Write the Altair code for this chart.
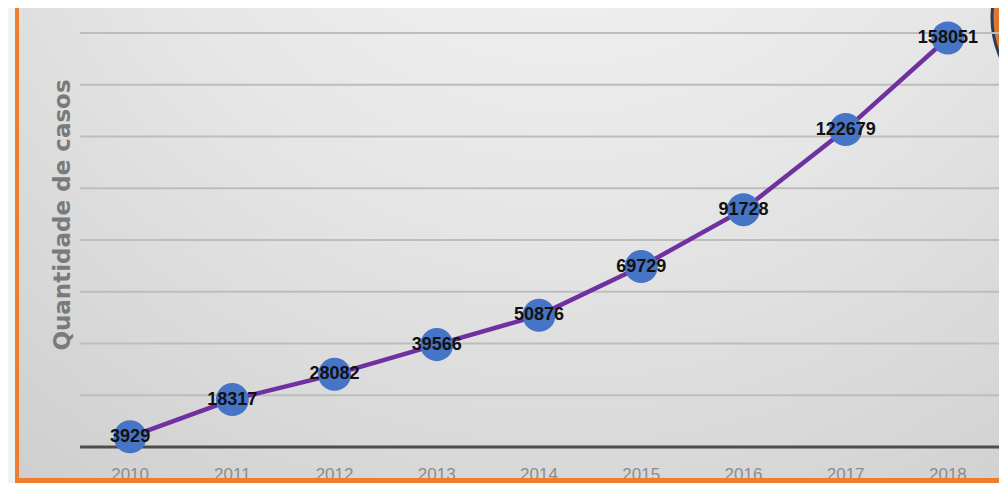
import altair as alt
import pandas as pd

years = ["2010", "2011", "2012", "2013", "2014", "2015", "2016", "2017", "2018"]
cases = [3929, 18317, 28082, 39566, 50876, 69729, 91728, 122679, 158051]
grid_values = [20000, 40000, 60000, 80000, 100000, 120000, 140000, 160000]
y_title = "Quantidade de casos"

df = pd.DataFrame({"year": years, "cases": cases})
grid_df = pd.DataFrame({"v": grid_values})
base_df = pd.DataFrame({"v": [0]})
one = pd.DataFrame({"k": [0]})

W, H = 920, 414

xs = alt.X("year:O", scale=alt.Scale(padding=0.5), axis=None)
ys_scale = alt.Scale(domain=[0, 160000], nice=False, zero=True)

# decorations (slide frame)
strip = alt.Chart(one).mark_rect(color="#eef3f3").encode(
    x=alt.value(-71), x2=alt.value(-64), y=alt.value(-25), y2=alt.value(450))

bg_grad = alt.Gradient(
    gradient="radial",
    stops=[alt.GradientStop(offset=0, color="#f7f7f7"),
           alt.GradientStop(offset=0.45, color="#e6e6e6"),
           alt.GradientStop(offset=1, color="#c8c8c8")],
    x1=0.55, y1=0.0, r1=0, x2=0.55, y2=0.0, r2=1.05)
bg = alt.Chart(one).mark_rect(color=bg_grad).encode(
    x=alt.value(-60), x2=alt.value(930), y=alt.value(-28), y2=alt.value(445))

left_bar = alt.Chart(one).mark_rect(color="#ee7d31").encode(
    x=alt.value(-64), x2=alt.value(-60), y=alt.value(-25), y2=alt.value(450))
bottom_bar = alt.Chart(one).mark_rect(color="#ee7d31").encode(
    x=alt.value(-64), x2=alt.value(930), y=alt.value(445), y2=alt.value(450))

corner = alt.Chart(one).mark_point(
    shape="circle", filled=True, fill="#e07632", stroke="#22405e",
    strokeWidth=3, opacity=1, size=36864).encode(
    x=alt.value(1009), y=alt.value(-15))

grid = alt.Chart(grid_df).mark_rule(color="#bdbdbd", strokeWidth=2).encode(
    y=alt.Y("v:Q", scale=ys_scale, axis=None),
    x=alt.value(1), x2=alt.value(921))

baseline = alt.Chart(base_df).mark_rule(color="#4d4d4d", strokeWidth=3).encode(
    y=alt.Y("v:Q", scale=ys_scale, axis=None),
    x=alt.value(1), x2=alt.value(921))

ys = alt.Y("cases:Q", scale=ys_scale, axis=None)

line = alt.Chart(df).mark_line(color="#7030a0", strokeWidth=4.5).encode(x=xs, y=ys)
pts = alt.Chart(df).mark_circle(size=1090, color="#4674c6", opacity=1).encode(x=xs, y=ys)
vals = alt.Chart(df).mark_text(
    font="Liberation Sans", fontWeight="bold", fontSize=18, color="#111111",
    align="center", baseline="middle").encode(x=xs, y=ys, text="cases:Q")

year_lbl = alt.Chart(df).mark_text(
    font="Liberation Sans", fontSize=17, color="#8c8c8c",
    align="center", baseline="alphabetic").encode(
    x=xs, y=alt.value(447), text="year:N")

title = alt.Chart(pd.DataFrame({"t": [y_title]})).mark_text(
    font="DejaVu Sans", fontWeight="bold", fontSize=23, color="#7a7a7a",
    angle=270, align="center", baseline="middle").encode(
    x=alt.value(-16), y=alt.value(182), text="t:N")

chart = alt.layer(
    strip, bg, left_bar, corner, grid, baseline, line, pts, vals,
    year_lbl, title, bottom_bar
).properties(
    width=W, height=H,
    padding={"left": 71, "top": 25, "right": 0, "bottom": 36},
    autosize=alt.AutoSizeParams(type="none"),
).configure_view(stroke=None)

chart.save("out.html", embed_options={"renderer": "svg", "actions": False})
